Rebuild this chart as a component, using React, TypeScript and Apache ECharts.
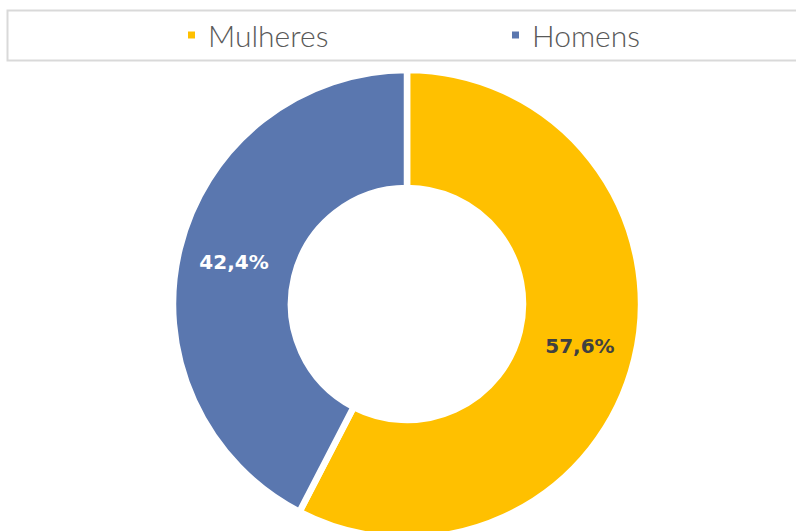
import React, { useEffect, useRef } from "react";
import * as echarts from "echarts";

const categories = ["Mulheres", "Homens"];
const values = [57.6, 42.4];
const colors = ["#FFC000", "#5A77AF"];
const labelColors = ["#404040", "#FFFFFF"];

export default function App() {
  const ref = useRef<HTMLDivElement>(null);
  useEffect(() => {
    document.body.style.margin = "0";
    const chart = echarts.init(ref.current!, null, { renderer: "svg" });
    const legendLefts = [186, 510];
    chart.setOption({
      animation: false,
      backgroundColor: "#ffffff",
      graphic: [
        {
          type: "rect",
          shape: { x: 7.5, y: 10.5, width: 800, height: 50 },
          style: { fill: "none", stroke: "#d9d9d9", lineWidth: 2 },
          silent: true,
        },
      ],
      legend: categories.map((c, i) => ({
        data: [c],
        left: legendLefts[i],
        top: 18,
        padding: 0,
        icon: "rect",
        itemWidth: 9,
        itemHeight: 9,
        selectedMode: false,
        textStyle: {
          color: "#595959",
          fontSize: 30,
          fontWeight: 300,
          fontFamily: "Lato, 'Open Sans', sans-serif",
          lineHeight: 34,
          padding: [0, 0, 0, 7],
        },
      })),
      series: [
        {
          type: "pie",
          center: [407, 304],
          radius: [116, 234],
          startAngle: 90,
          clockwise: true,
          silent: true,
          itemStyle: { borderColor: "#ffffff", borderWidth: 6.5 },
          label: {
            show: true,
            position: "inside",
            fontFamily: "'DejaVu Sans', sans-serif",
            fontWeight: "bold",
            fontSize: 20,
            formatter: (p: any) => p.value.toFixed(1).replace(".", ",") + "%",
          },
          labelLine: { show: false },
          data: categories.map((c, i) => ({
            name: c,
            value: values[i],
            itemStyle: { color: colors[i] },
            label: { color: labelColors[i] },
          })),
        },
      ],
    });
    return () => chart.dispose();
  }, []);
  return <div ref={ref} style={{ width: 796, height: 531 }} />;
}
